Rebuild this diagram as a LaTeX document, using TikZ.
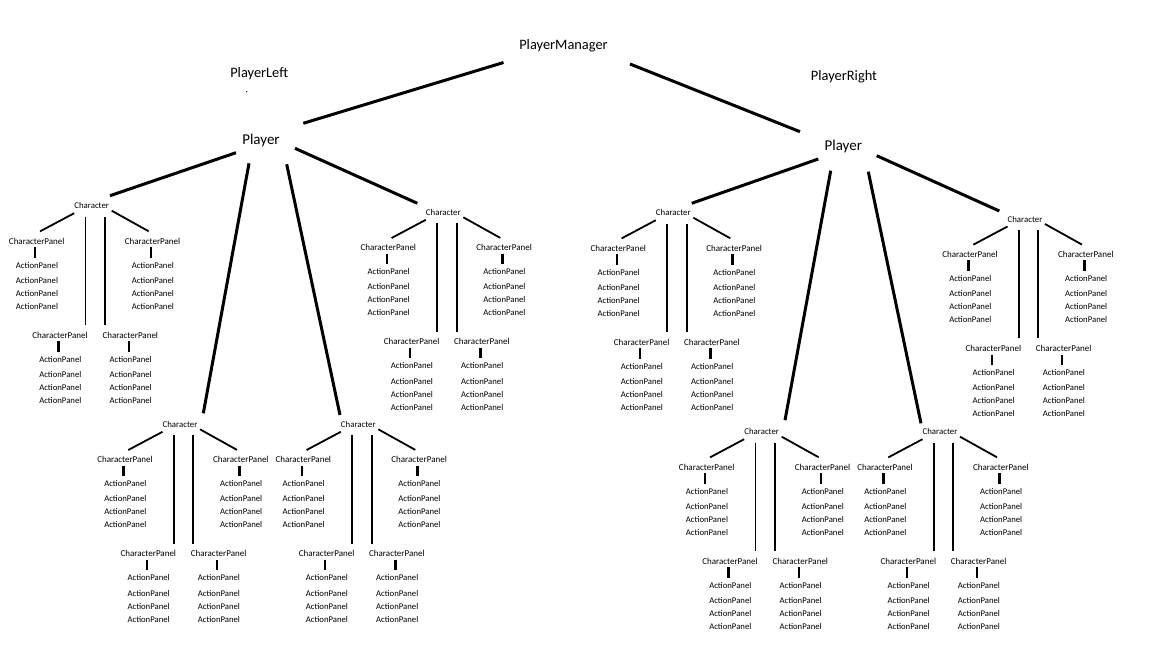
\documentclass[tikz,border=0pt]{standalone}
\usepackage{fontspec}
\setmainfont{Carlito}
\usetikzlibrary{calc}

\begin{document}
\begin{tikzpicture}[x=1pt, y=-1pt, line join=round,
	every node/.style={inner sep=0pt, font=\fontsize{14.4}{14.4}\selectfont},
	big/.style={line width=3pt},
	small/.style={line width=1.8pt},
	stub/.style={line width=2.4pt},
	chartext/.style={font=\fontsize{8.8}{8.8}\selectfont},
	cptext/.style={font=\fontsize{9}{9}\selectfont},
	aptext/.style={font=\fontsize{8.7}{8.7}\selectfont}]
	\useasboundingbox (0,0) rectangle (1152,648);
	% top level
	\node (pm) at (563.5,46) {PlayerManager};
	\node (pleft) at (259.2,74) {PlayerLeft};
	\node (pright) at (844,76.7) {PlayerRight};
	\node[font=\fontsize{15}{15}\selectfont] (pl) at (261,140) {Player};
	\node[font=\fontsize{15}{15}\selectfont] (pr) at (843.3,146.7) {Player};
	\fill ($(pleft)+(-12.5,17.7)$) circle (0.7);
	\draw[big] ($(pm)+(-60,16.5)$) -- ($(pl)+(42.3,-16.7)$);
	\draw[big] ($(pm)+(66.5,18)$) -- ($(pr)+(-43.3,-15)$);
	% characters
	\foreach \ch/\cx/\cy in {c1/91.7/205.7, c2/443.3/212.3, c3/180/424.3, c4/358.3/424.3,
		c5/673.3/212.7, c6/1025/219, c7/761.7/431.7, c8/940/431.7}{
		\node[chartext] (\ch) at (\cx,\cy) {Character};
		\foreach \p/\dx/\dy in {l/-55/35.4, r/60.8/35.4, ml/-31.7/129.6, mr/38.6/129.6}{
			\node[cptext] (\ch-\p) at ($(\ch)+(\dx,\dy)$) {CharacterPanel};
			\foreach \k/\ky in {1/24, 2/39.3, 3/52.3, 4/65.3}
				\node[aptext] (\ch-\p-\k) at ($(\ch-\p)+(0.3,\ky)$) {ActionPanel};
			\draw[stub] ($(\ch-\p)+(-1.5,6)$) -- ($(\ch-\p-1)+(-1.8,-7.5)$);
		}
		\draw[small] ($(\ch)+(-17.5,7.5)$) -- ($(\ch-l)+(3.3,-9.7)$);
		\draw[small] ($(\ch)+(20,5)$) -- ($(\ch-r)+(-3.8,-9.8)$);
		\draw[small] ($(\ch)+(-6.3,10.8)$) -- ($(\ch-ml)+(25.4,-10.3)$);
		\draw[small] ($(\ch)+(13.3,10.8)$) -- ($(\ch-mr)+(-25.3,-10.3)$);
	}
	% player to character
	\draw[big] ($(pl)+(-25,12.7)$) -- ($(c1)+(18.3,-10)$);
	\draw[big] ($(pl)+(-12,23.3)$) -- ($(c3)+(23.3,-11)$);
	\draw[big] ($(pl)+(25.7,24.3)$) -- ($(c4)+(-18.3,-9.3)$);
	\draw[big] ($(pl)+(34,8.3)$) -- ($(c2)+(-26,-9)$);
	\draw[big] ($(pr)+(-25,12.3)$) -- ($(c5)+(18.4,-9.4)$);
	\draw[big] ($(pr)+(-12.6,24)$) -- ($(c7)+(23.3,-11.5)$);
	\draw[big] ($(pr)+(25,25)$) -- ($(c8)+(-19,-8.4)$);
	\draw[big] ($(pr)+(33.4,9)$) -- ($(c6)+(-25.7,-8)$);
\end{tikzpicture}
\end{document}
